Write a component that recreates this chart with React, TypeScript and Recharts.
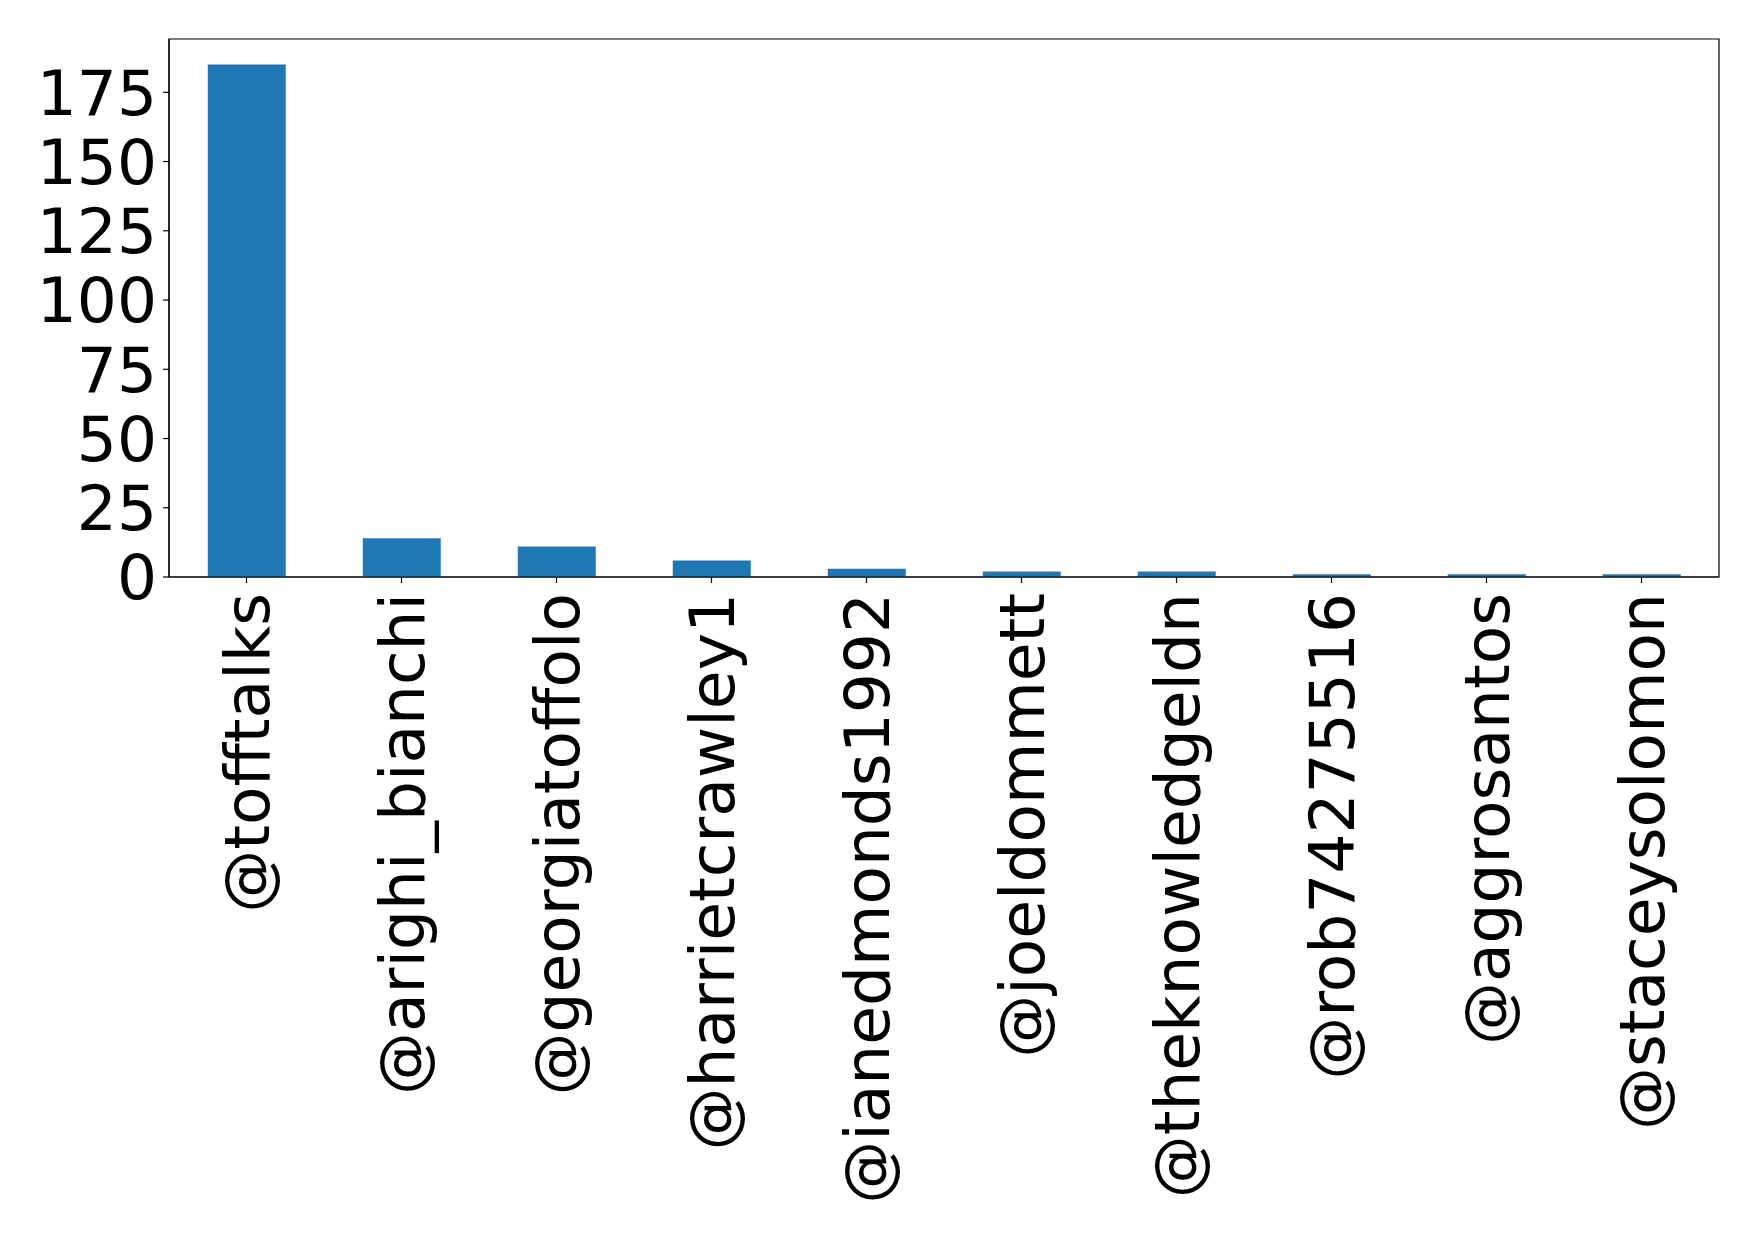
import React from 'react';
import { BarChart, Bar, XAxis, YAxis, ReferenceArea } from 'recharts';

const users = [
  '@tofftalks',
  '@arighi_bianchi',
  '@georgiatoffolo',
  '@harrietcrawley1',
  '@ianedmonds1992',
  '@joeldommett',
  '@theknowledgeldn',
  '@rob74275516',
  '@aggrosantos',
  '@staceysolomon',
];
const counts = [185, 14, 11, 6, 3, 2, 2, 1, 1, 1];
const yTicks = [0, 25, 50, 75, 100, 125, 150, 175];
const yMax = 194.25;

const data = users.map((user, i) => ({ user, count: counts[i] }));

const font = 'DejaVu Sans';
const fontSize = 63;

function RotatedTick(props: any) {
  const { x, y, payload } = props;
  return (
    <text
      x={x}
      y={y}
      transform={`rotate(-90, ${x}, ${y})`}
      textAnchor="end"
      dy="0.35em"
      fontSize={fontSize}
      fontFamily={font}
      fill="#000"
    >
      {payload.value}
    </text>
  );
}

function App() {
  return (
    <div style={{ position: 'absolute', left: 0, top: 0, background: '#fff' }}>
      <BarChart
        width={1758}
        height={1233}
        data={data}
        margin={{ top: 39, right: 39, left: 0, bottom: 0 }}
        barCategoryGap="25%"
      >
        <XAxis
          dataKey="user"
          interval={0}
          height={656}
          tick={<RotatedTick />}
          tickSize={6}
          tickMargin={10}
          axisLine={{ stroke: '#000', strokeWidth: 1.2 }}
          tickLine={{ stroke: '#000', strokeWidth: 1.2 }}
        />
        <YAxis
          width={169}
          domain={[0, yMax]}
          ticks={yTicks}
          interval={0}
          allowDataOverflow
          tickSize={6}
          tickMargin={6}
          tick={{ fontSize, fontFamily: font, fill: '#000' }}
          axisLine={{ stroke: '#000', strokeWidth: 1.2 }}
          tickLine={{ stroke: '#000', strokeWidth: 1.2 }}
        />
        <Bar dataKey="count" fill="#1f77b4" isAnimationActive={false} />
        <ReferenceArea y1={0} y2={yMax} fill="none" stroke="#000" strokeWidth={1.2} ifOverflow="visible" />
      </BarChart>
    </div>
  );
}

export default App;
